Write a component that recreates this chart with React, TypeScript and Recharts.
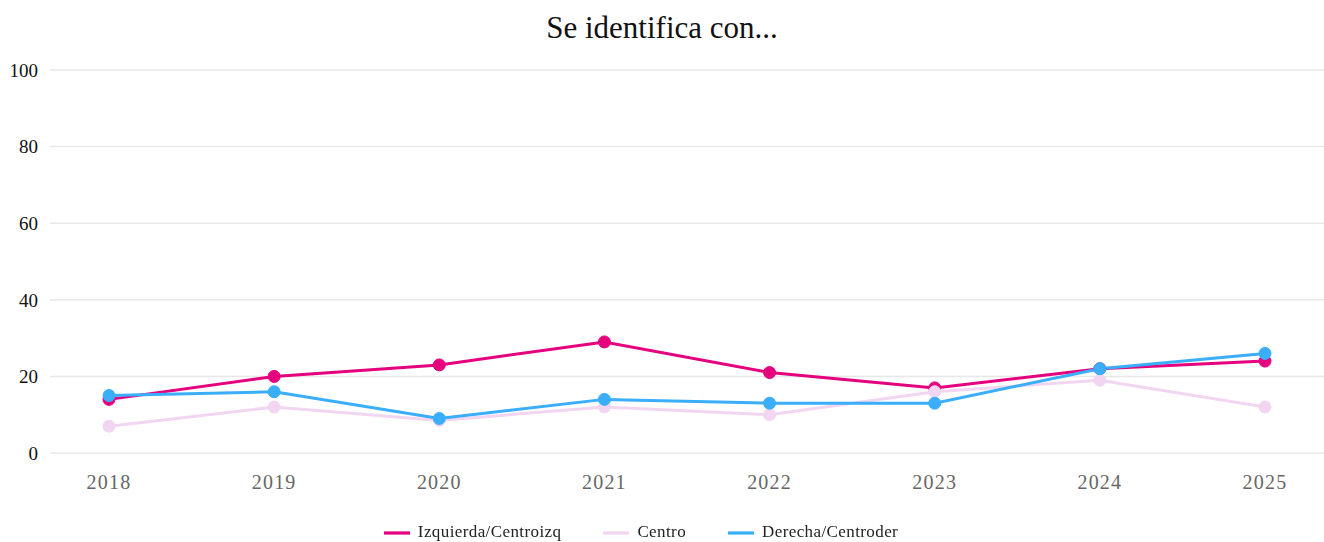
import React from "react";
import {
  LineChart,
  Line,
  XAxis,
  YAxis,
  CartesianGrid,
  Legend,
} from "recharts";

const years = ["2018", "2019", "2020", "2021", "2022", "2023", "2024", "2025"];
const izquierda = [14, 20, 23, 29, 21, 17, 22, 24];
const centro = [7, 12, 8.5, 12, 10, 16, 19, 12];
const derecha = [15, 16, 9, 14, 13, 13, 22, 26];
const yTicks = [0, 20, 40, 60, 80, 100];

const series = [
  { key: "izq", name: "Izquierda/Centroizq", color: "#e5007e" },
  { key: "centro", name: "Centro", color: "#f2d6f1" },
  { key: "der", name: "Derecha/Centroder", color: "#3aaefb" },
];

const rows = years.map((y, i) => ({
  year: y,
  izq: izquierda[i],
  centro: centro[i],
  der: derecha[i],
}));

const font = "Liberation Serif, DejaVu Serif, serif";

export default function App() {
  return (
    <div
      style={{
        position: "fixed",
        left: 0,
        top: 0,
        width: 1324,
        height: 542,
        background: "#fff",
        fontFamily: font,
      }}
    >
      <div
        style={{
          position: "absolute",
          top: 9,
          left: 0,
          width: 1324,
          textAlign: "center",
          fontSize: 31,
          color: "#111",
          lineHeight: "38px",
          fontFamily: font,
        }}
      >
        Se identifica con...
      </div>
      <LineChart
        width={1324}
        height={542}
        data={rows}
        margin={{ top: 70, right: 0, left: 0, bottom: 0 }}
      >
        <CartesianGrid vertical={false} stroke="#e8e8e8" strokeWidth={1.5} />
        <XAxis
          dataKey="year"
          axisLine={false}
          tickLine={false}
          height={60}
          padding={{ left: 59, right: 59 }}
          tickSize={0}
          tickMargin={22}
          tick={{ fill: "#666", fontSize: 20, fontFamily: font, letterSpacing: 1.2 }}
        />
        <YAxis
          domain={[0, 100]}
          ticks={yTicks}
          width={50}
          axisLine={false}
          tickLine={false}
          tickSize={0}
          tickMargin={12}
          tick={{ fill: "#111", fontSize: 19, fontFamily: font }}
        />
        <Legend
          verticalAlign="bottom"
          height={29}
          iconType="plainline"
          iconSize={26}
          itemSorter={null}
          wrapperStyle={{ fontFamily: font, fontSize: 17, bottom: -7 }}
          formatter={(v) => (
            <span
              style={{
                color: "#222",
                fontSize: 17,
                fontFamily: font,
                letterSpacing: 0.4,
                marginLeft: 4,
                marginRight: 32,
              }}
            >
              {v}
            </span>
          )}
        />
        {series.map((s) => (
          <Line
            key={s.key}
            type="linear"
            dataKey={s.key}
            name={s.name}
            stroke={s.color}
            strokeWidth={3}
            dot={{ r: 6, fill: s.color, stroke: s.color, strokeWidth: 1 }}
            activeDot={false}
            isAnimationActive={false}
          />
        ))}
      </LineChart>
    </div>
  );
}
